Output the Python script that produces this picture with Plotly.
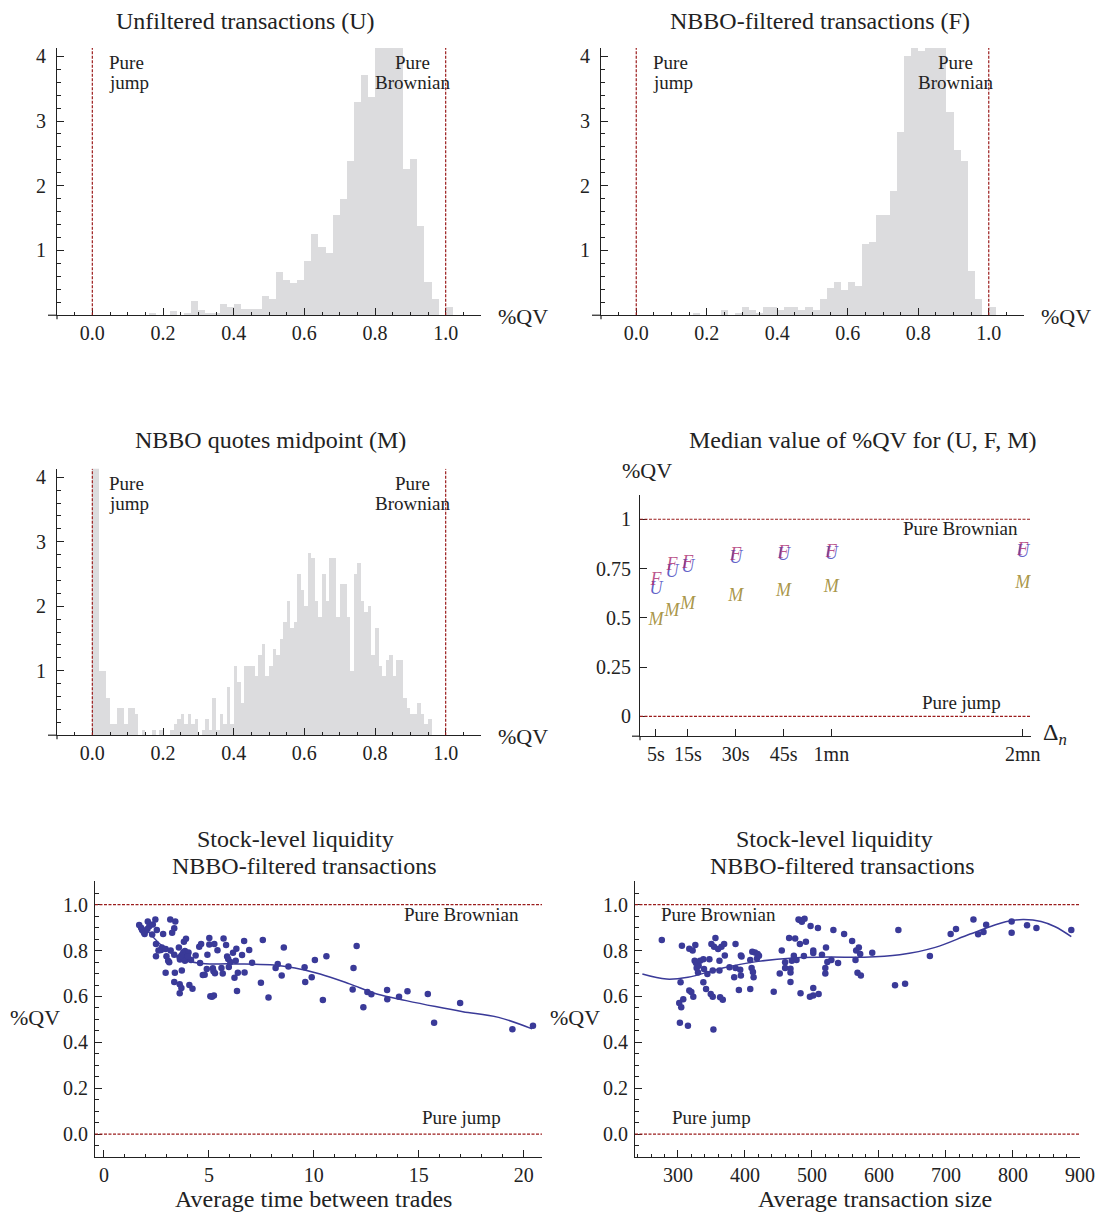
import numpy as np
import plotly.graph_objects as go

W, H = 1101, 1215
# the photo of the page comes out about 1.4% narrower than the layout width,
# so the figure is laid out a bit wider and positions are given in photo pixels
W_FIG = 1116
FONT = "Liberation Serif, Times New Roman, serif"
GRAY = "#dcdcde"
RED = "#9b1c1c"
BLUE = "#3a3a98"
INK = "#222222"

# histogram densities, U and F with 0.02 bins from 0.00, M with 0.01 bins from 0.00
hist_u = [0, 0, 0, 0, 0, 0, 0, 0, 0.04, 0, 0, 0.06, 0, 0.03, 0.22, 0.09, 0.04, 0.04,
          0.17, 0.13, 0.17, 0.10, 0.10, 0.10, 0.30, 0.25, 0.67, 0.55, 0.50, 0.55,
          0.84, 1.25, 1.05, 0.97, 1.55, 1.80, 2.38, 3.30, 3.71, 3.38, 4.6, 4.8, 4.7,
          4.5, 2.26, 2.42, 1.38, 0.51, 0.26, 0, 0.13]
hist_f = [0, 0, 0, 0, 0, 0, 0, 0, 0.04, 0, 0, 0, 0.09, 0, 0.03, 0.13, 0.09, 0.04,
          0.13, 0.13, 0.09, 0.13, 0.13, 0.09, 0.13, 0.09, 0.26, 0.42, 0.51, 0.39,
          0.51, 0.46, 1.10, 1.13, 1.55, 1.55, 1.92, 2.84, 4.0, 4.5, 4.08, 4.6, 4.7,
          4.5, 3.14, 2.56, 2.38, 0.68, 0.26, 0, 0.13]
hist_m = [4.6, 4.6, 1.0, 1.0, 0.58, 0.17, 0.17, 0.42, 0.42, 0.17, 0.42, 0.42, 0.33, 0,
          0.08, 0, 0, 0.08, 0, 0.08, 0, 0, 0.08, 0.17, 0.25, 0.33, 0.17, 0.33, 0.17,
          0.25, 0, 0.08, 0.25, 0.08, 0.58, 0.08, 0.33, 0.17, 0.75, 0.17, 1.08, 0.83,
          0.5, 1.08, 1.08, 1.08, 0.92, 1.25, 1.42, 0.92, 1.08, 1.34, 1.25, 1.5, 1.75,
          2.08, 1.67, 1.75, 2.5, 2.25, 2.0, 2.83, 2.75, 2.08, 1.83, 2.5, 2.08, 2.75,
          2.75, 1.83, 2.34, 2.34, 1.83, 1.0, 2.5, 2.67, 2.08, 1.92, 2.0, 1.25, 1.67,
          1.08, 0.92, 1.17, 1.25, 0.92, 1.17, 1.17, 0.58, 0.42, 0.33, 0.33, 0.5, 0.33,
          0.17, 0.25]
qv_ticks = [0.0, 0.2, 0.4, 0.6, 0.8, 1.0]
qv_labels = ["0.0", "0.2", "0.4", "0.6", "0.8", "1.0"]

# median %QV by sampling interval (seconds)
delta_sec = [5, 10, 15, 30, 45, 60, 120]
delta_ticks = [5, 15, 30, 45, 60, 120]
delta_labels = ["5s", "15s", "30s", "45s", "1mn", "2mn"]
median_u = [0.645, 0.73, 0.757, 0.80, 0.816, 0.823, 0.833]
median_f = [0.687, 0.765, 0.777, 0.814, 0.828, 0.831, 0.84]
median_m = [0.485, 0.53, 0.566, 0.608, 0.633, 0.655, 0.676]

# stock level: average time between trades vs %QV
time_x = [1.68, 1.77, 1.82, 1.90, 1.99, 1.94, 2.07, 2.09, 2.16, 2.33, 2.45, 2.52, 2.82,
          3.16, 3.25, 3.35, 3.40, 2.48, 2.48, 2.72, 2.76, 2.94, 2.98, 3.06, 3.11, 2.94,
          3.18, 3.35, 3.38, 3.35, 3.57, 3.61, 3.62, 3.61, 3.61, 3.71, 3.69, 3.78, 3.81,
          3.86, 3.91, 3.86, 3.95, 4.03, 4.07, 4.15, 4.22, 4.37, 4.54, 4.58, 4.63, 4.71,
          4.80, 4.90, 4.93, 5.02, 5.02, 5.07, 5.15, 5.24, 5.19, 5.22, 5.26, 5.29, 5.41,
          5.60, 5.66, 5.70, 5.82, 5.87, 5.92, 5.95, 6.02, 6.15, 6.22, 6.28, 6.31, 6.34,
          6.38, 6.58, 6.68, 6.70, 6.92, 7.06, 7.48, 7.57, 7.84, 8.18, 8.28, 8.47, 8.57,
          8.79, 9.56, 9.59, 9.90, 10.05, 10.43, 10.6, 11.85, 11.89, 12.04, 12.36, 12.55,
          12.74, 13.49, 13.50, 14.06, 14.46, 15.43, 15.73, 16.97, 19.46, 20.44,
          3.75, 3.85, 3.70, 4.00, 2.30, 2.60]
time_y = [0.911, 0.90, 0.89, 0.88, 0.887, 0.872, 0.894, 0.927, 0.906, 0.914, 0.936, 0.89,
          0.872, 0.936, 0.878, 0.897, 0.927, 0.829, 0.775, 0.803, 0.814, 0.807, 0.775,
          0.756, 0.749, 0.704, 0.80, 0.782, 0.704, 0.663, 0.814, 0.771, 0.761, 0.653,
          0.614, 0.713, 0.637, 0.792, 0.839, 0.756, 0.852, 0.798, 0.762, 0.792, 0.650,
          0.759, 0.634, 0.779, 0.817, 0.746, 0.829, 0.694, 0.695, 0.720, 0.782, 0.855,
          0.827, 0.601, 0.599, 0.604, 0.723, 0.710, 0.829, 0.701, 0.801, 0.724, 0.700,
          0.853, 0.824, 0.774, 0.763, 0.729, 0.750, 0.791, 0.682, 0.756, 0.808, 0.624,
          0.704, 0.781, 0.842, 0.705, 0.803, 0.747, 0.660, 0.846, 0.596, 0.724, 0.742,
          0.692, 0.814, 0.731, 0.727, 0.663, 0.684, 0.759, 0.585, 0.775, 0.631, 0.724,
          0.820, 0.553, 0.620, 0.610, 0.628, 0.588, 0.599, 0.623, 0.611, 0.486, 0.572,
          0.457, 0.472, 0.770, 0.765, 0.780, 0.775, 0.870, 0.800]
time_fit_x = [2.07, 2.67, 3.52, 4.54, 6.07, 8.1, 9.1, 10.3, 11.7, 13.0, 14.4, 15.8, 17.1,
              18.8, 20.4]
time_fit_y = [0.887, 0.829, 0.771, 0.745, 0.742, 0.737, 0.724, 0.698, 0.655, 0.611, 0.582,
              0.556, 0.534, 0.509, 0.459]

# stock level: average transaction size vs %QV
size_x = [276, 304, 306, 302, 305, 303, 308, 315, 317, 317, 320, 322, 323, 325, 326, 327,
          328, 330, 331, 333, 338, 338, 339, 342, 344, 347, 349, 350, 352, 352, 354, 356,
          353, 360, 362, 363, 365, 362, 367, 369, 370, 377, 386, 386, 384, 391, 393, 394,
          394, 395, 408, 408, 410, 411, 412, 413, 415, 418, 419, 421, 443, 452, 455, 460,
          460, 466, 468, 468, 468, 470, 473, 475, 477, 480, 482, 485, 482, 483, 488, 489,
          491, 498, 497, 502, 502, 502, 502, 509, 510, 515, 520, 520, 521, 523, 529, 532,
          539, 548, 560, 565, 566, 568, 570, 572, 573, 590, 624, 629, 639, 676, 707, 715,
          741, 748, 756, 760, 798, 798, 821, 835, 887]
size_y = [0.846, 0.662, 0.821, 0.572, 0.553, 0.486, 0.588, 0.473, 0.808, 0.626, 0.620,
          0.80, 0.599, 0.756, 0.824, 0.746, 0.724, 0.705, 0.734, 0.756, 0.762, 0.662,
          0.720, 0.633, 0.698, 0.762, 0.611, 0.829, 0.599, 0.713, 0.817, 0.855, 0.456,
          0.807, 0.756, 0.597, 0.817, 0.713, 0.586, 0.829, 0.779, 0.727, 0.724, 0.829,
          0.684, 0.628, 0.717, 0.691, 0.779, 0.774, 0.759, 0.633, 0.724, 0.795, 0.707,
          0.684, 0.792, 0.766, 0.785, 0.778, 0.621, 0.700, 0.800, 0.749, 0.724, 0.855,
          0.721, 0.705, 0.663, 0.756, 0.778, 0.853, 0.759, 0.935, 0.933, 0.926, 0.829,
          0.614, 0.776, 0.939, 0.839, 0.907, 0.599, 0.800, 0.790, 0.604, 0.637, 0.898,
          0.611, 0.782, 0.724, 0.700, 0.814, 0.750, 0.759, 0.890, 0.746, 0.872, 0.842,
          0.759, 0.800, 0.704, 0.814, 0.785, 0.692, 0.791, 0.649, 0.890, 0.655, 0.776,
          0.872, 0.894, 0.936, 0.871, 0.881, 0.913, 0.927, 0.878, 0.910, 0.898, 0.890]
size_fit_x = [247, 283, 315, 367, 420, 473, 526, 578, 631, 684, 736, 789, 815, 842, 863, 887]
size_fit_y = [0.698, 0.676, 0.684, 0.724, 0.753, 0.768, 0.772, 0.771, 0.782, 0.814, 0.872,
              0.926, 0.935, 0.927, 0.904, 0.861]


def xdom(left, right):
    return [left / W, right / W]


def ydom(top, bottom):
    return [1 - bottom / H, 1 - top / H]


def axis(dom, rng, **kw):
    base = dict(domain=dom, range=rng, showline=True, linecolor=INK, linewidth=1.2,
                showgrid=False, zeroline=False, ticks="inside", ticklen=7,
                tickcolor=INK, tickfont=dict(family=FONT, size=20, color=INK),
                fixedrange=True)
    base.update(kw)
    return base


def minor(dtick, tick0=0):
    return dict(dtick=dtick, tick0=tick0, ticks="inside", ticklen=3.5, tickcolor=INK,
                showgrid=False)


def note(x, y, text, size=19, **kw):
    # x, y are photo pixels from the top-left corner
    d = dict(x=x / W, y=1 - y / H, xref="paper", yref="paper", text=text,
             showarrow=False, xanchor="center", yanchor="middle",
             font=dict(family=FONT, size=size, color=INK))
    d.update(kw)
    return d


def stub(x0, y0, x1, y1):
    # short axis overhang where the two axes cross
    return dict(type="line", xref="paper", yref="paper", x0=x0 / W, x1=x1 / W,
                y0=1 - y0 / H, y1=1 - y1 / H, line=dict(color=INK, width=1.2))


fig = go.Figure()
shapes = []
annotations = []

# histogram panels
hist_panels = [
    ("1", hist_u, 0.02, (57, 481), (45, 313), "Unfiltered transactions (U)", (245, 18)),
    ("2", hist_f, 0.02, (601, 1024), (45, 313), "NBBO-filtered transactions (F)", (820, 18)),
    ("3", hist_m, 0.01, (57, 481), (467, 734), "NBBO quotes midpoint (M)", (270, 438)),
]
for k, heights, bw, xd, yd, title, tpos in hist_panels:
    sx = "" if k == "1" else k
    centers = np.arange(len(heights)) * bw + bw / 2
    fig.add_trace(go.Bar(x=centers, y=heights, width=bw, marker_color=GRAY,
                         marker_line_width=0, xaxis="x" + sx, yaxis="y" + sx,
                         showlegend=False, hoverinfo="skip"))
    fig.layout["xaxis" + sx] = axis(xdom(*xd), [-0.1, 1.1], anchor="y" + sx,
                                   tickmode="array", tickvals=qv_ticks,
                                   ticktext=qv_labels, minor=minor(0.05))
    fig.layout["yaxis" + sx] = axis(ydom(*yd), [0, 4.13], anchor="x" + sx,
                                   tickmode="array", tickvals=[1, 2, 3, 4],
                                   ticklabelstandoff=6, minor=minor(0.2))
    for xv in (0, 1):
        shapes.append(dict(type="line", xref="x" + sx, yref="y" + sx, x0=xv, x1=xv,
                           y0=0, y1=4.13, line=dict(color=RED, width=1.2, dash="3px,1.5px")))
    shapes.append(stub(xd[0] - 9, yd[1], xd[0], yd[1]))
    shapes.append(stub(xd[0], yd[1], xd[0], yd[1] + 4))
    unit = (xd[1] - xd[0]) / 1.2
    x0 = xd[0] + 0.1 * unit
    annotations.append(note(tpos[0], tpos[1], title, size=24))
    annotations.append(note(x0 + 0.042 * unit, yd[0] + 15, "Pure", xanchor="left"))
    annotations.append(note(x0 + 0.042 * unit, yd[0] + 35, "jump", xanchor="left"))
    annotations.append(note(x0 + 0.906 * unit, yd[0] + 15, "Pure"))
    annotations.append(note(x0 + 0.906 * unit, yd[0] + 35, "Brownian"))
    annotations.append(note(xd[1] + 15, yd[1] + 1, "%QV", size=22, xanchor="left"))

# median panel
for vals, letter, color in [(median_m, "M", "rgba(160,138,50,0.9)"),
                            (median_u, "U", "rgba(70,70,190,0.85)"),
                            (median_f, "F", "rgba(170,40,110,0.8)")]:
    fig.add_trace(go.Scatter(x=delta_sec, y=vals, mode="text", text=[letter] * len(vals),
                             textfont=dict(family=FONT, size=18, color=color, style="italic"),
                             xaxis="x4", yaxis="y4", showlegend=False, hoverinfo="skip"))
fig.layout.xaxis4 = axis(xdom(640, 1031), [0, 122.6], anchor="y4", tickmode="array",
                         tickvals=delta_ticks, ticktext=delta_labels)
fig.layout.yaxis4 = axis(ydom(493, 735), [-0.1, 1.124], anchor="x4", tickmode="array",
                         tickvals=[0, 0.25, 0.5, 0.75, 1],
                         ticktext=["0", "0.25", "0.5", "0.75", "1"], ticklabelstandoff=4)
for yv in (0, 1):
    shapes.append(dict(type="line", xref="x4", yref="y4", x0=0, x1=122.6, y0=yv, y1=yv,
                       line=dict(color=RED, width=1.2, dash="3px,1.5px")))
shapes.append(stub(632, 735, 640, 735))
shapes.append(stub(640, 735, 640, 739))
annotations += [
    note(863, 438, "Median value of %QV for (U, F, M)", size=24),
    note(647, 469, "%QV", size=22),
    note(1055, 733, "Δ<sub><i>n</i></sub>", size=24),
    note(960, 527, "Pure Brownian"),
    note(961, 701, "Pure jump"),
]

# stock-level scatter panels
scatter_panels = [
    ("5", time_x, time_y, time_fit_x, time_fit_y, (95, 542), [-0.425, 20.87],
     [0, 5, 10, 15, 20], 1, "Average time between trades", 313, 35, (461, 461), 304),
    ("6", size_x, size_y, size_fit_x, size_fit_y, (635, 1080), [236, 900],
     [300, 400, 500, 600, 700, 800, 900], 20, "Average transaction size", 875, 575,
     (718, 711), 842),
]
for (k, xs, ys, fx, fy, xd, xr, xt, mdt, xlabel, xlab_c, ylab_x, notes_x,
     title_c) in scatter_panels:
    fig.add_trace(go.Scatter(x=fx, y=fy, mode="lines", line=dict(color=BLUE, width=1.5,
                                                                  shape="spline"),
                             xaxis="x" + k, yaxis="y" + k, showlegend=False,
                             hoverinfo="skip"))
    fig.add_trace(go.Scatter(x=xs, y=ys, mode="markers",
                             marker=dict(color=BLUE, size=6.5),
                             xaxis="x" + k, yaxis="y" + k, showlegend=False))
    fig.layout["xaxis" + k] = axis(xdom(*xd), xr, anchor="y" + k, tickmode="array",
                                   tickvals=xt, minor=minor(mdt))
    fig.layout["yaxis" + k] = axis(ydom(880, 1157), [-0.1, 1.104], anchor="x" + k,
                                   tickmode="array", tickvals=qv_ticks, ticktext=qv_labels,
                                   ticklabelstandoff=2, minor=minor(0.05))
    for yv in (0, 1):
        shapes.append(dict(type="line", xref="x" + k, yref="y" + k, x0=xr[0], x1=xr[1],
                           y0=yv, y1=yv, line=dict(color=RED, width=1.2, dash="3px,1.5px")))
    annotations += [
        note(title_c - 8, 838, "Stock-level liquidity", size=24),
        note(title_c, 865, "NBBO-filtered transactions", size=24),
        note(xlab_c, 1199, xlabel, size=24),
        note(ylab_x, 1017, "%QV", size=22),
        note(notes_x[0], 914, "Pure Brownian"),
        note(notes_x[1], 1117, "Pure jump"),
    ]

fig.update_layout(width=W_FIG, height=H, autosize=False, margin=dict(l=0, r=0, t=0, b=0),
                  plot_bgcolor="white", paper_bgcolor="white", bargap=0,
                  shapes=shapes, annotations=annotations,
                  font=dict(family=FONT, color=INK))

fig.write_html("out.html", config={"displayModeBar": False, "responsive": False},
               post_script="document.body.style.margin='0';"
                           "document.body.style.overflow='hidden';"
                           "document.documentElement.style.overflow='hidden';")
